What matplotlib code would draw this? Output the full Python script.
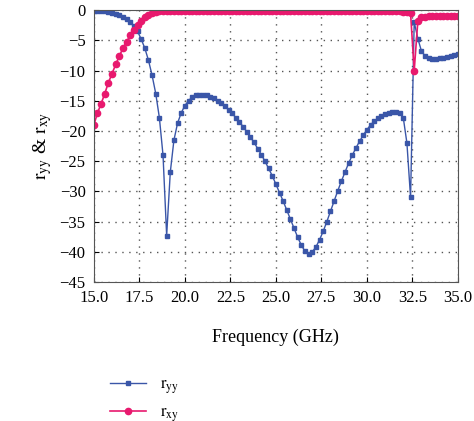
import numpy as np
import matplotlib.pyplot as plt

plt.rcParams['font.family'] = ['Liberation Serif', 'DejaVu Serif']
plt.rcParams['mathtext.fontset'] = 'stix'

# frequency grid (GHz)
freq = [round(15 + 0.2 * i, 1) for i in range(101)]

r_yy = [-0.1, -0.1, -0.15, -0.2, -0.3, -0.4, -0.6, -0.8, -1.1, -1.5,
        -2.0, -2.7, -3.5, -4.8, -6.3, -8.3, -10.8, -13.8, -17.8, -24.0,
        -37.3, -26.8, -21.5, -18.7, -17.0, -15.8, -15.0, -14.4, -14.1, -14.0,
        -14.0, -14.1, -14.3, -14.6, -15.0, -15.4, -15.9, -16.5, -17.1, -17.8,
        -18.5, -19.3, -20.1, -21.0, -21.9, -22.9, -23.9, -25.0, -26.2, -27.4,
        -28.8, -30.2, -31.6, -33.1, -34.6, -36.1, -37.6, -38.9, -39.9, -40.3,
        -40.0, -39.2, -38.0, -36.6, -35.0, -33.3, -31.6, -29.9, -28.3, -26.8,
        -25.3, -24.0, -22.8, -21.7, -20.7, -19.8, -19.0, -18.4, -17.9, -17.5,
        -17.2, -17.0, -16.9, -16.9, -17.1, -17.8, -22.0, -31.0, -2.0, -4.7,
        -6.8, -7.6, -8.0, -8.1, -8.1, -8.0, -7.9, -7.8, -7.6, -7.4,
        -7.2]

r_xy = [-19.0, -17.0, -15.5, -13.8, -12.0, -10.5, -9.0, -7.6, -6.3, -5.2,
        -4.2, -3.3, -2.5, -1.8, -1.2, -0.8, -0.5, -0.3, -0.2, -0.1,
        -0.1, -0.1, -0.1, -0.1, -0.1, -0.1, -0.1, -0.1, -0.1, -0.1,
        -0.1, -0.1, -0.1, -0.1, -0.1, -0.1, -0.1, -0.1, -0.1, -0.1,
        -0.1, -0.1, -0.1, -0.1, -0.1, -0.1, -0.1, -0.1, -0.1, -0.1,
        -0.1, -0.1, -0.1, -0.1, -0.1, -0.1, -0.1, -0.1, -0.1, -0.1,
        -0.1, -0.1, -0.1, -0.1, -0.1, -0.1, -0.1, -0.1, -0.1, -0.1,
        -0.1, -0.1, -0.1, -0.1, -0.1, -0.2, -0.2, -0.2, -0.2, -0.2,
        -0.2, -0.2, -0.2, -0.2, -0.2, -0.3, -0.3, -0.5, -10.0, -1.8,
        -1.2, -1.1, -1.0, -1.0, -1.0, -1.0, -1.0, -1.0, -1.0, -1.0,
        -1.0]

fig = plt.figure(figsize=(4.74, 4.21), dpi=100)
ax = fig.add_axes([0.198, 0.33, 0.768, 0.646])
ax.plot(freq, r_yy, color='#3a56a8', marker='s', markersize=3.5, lw=1, label=r'$\mathrm{r_{yy}}$')
ax.plot(freq, r_xy, color='#e8196e', marker='o', markersize=4.5, lw=1.2, label=r'$\mathrm{r_{xy}}$')

ax.set_xlim(15, 35)
ax.set_ylim(-45, 0)
ax.set_xticks(np.arange(15, 35.1, 2.5))
ax.set_xticklabels([f'{v:.1f}' for v in np.arange(15, 35.1, 2.5)])
ax.set_yticks(np.arange(-45, 1, 5))
ax.tick_params(labelsize=12, direction='in', pad=6)
ax.grid(True, linestyle=(0, (1, 4)), color='#555555', lw=1)
for s in ax.spines.values():
    s.set_color('#555555')
ax.set_xlabel('Frequency (GHz)', fontsize=13, labelpad=16)
ax.set_ylabel(r'$\mathrm{r_{yy}}$ & $\mathrm{r_{xy}}$', fontsize=14, labelpad=4)

fig.legend(loc='upper left', bbox_to_anchor=(0.2, 0.14), frameon=False,
           fontsize=12, handlelength=2.2, labelspacing=0.5)
fig.savefig('out.png', dpi=100)
